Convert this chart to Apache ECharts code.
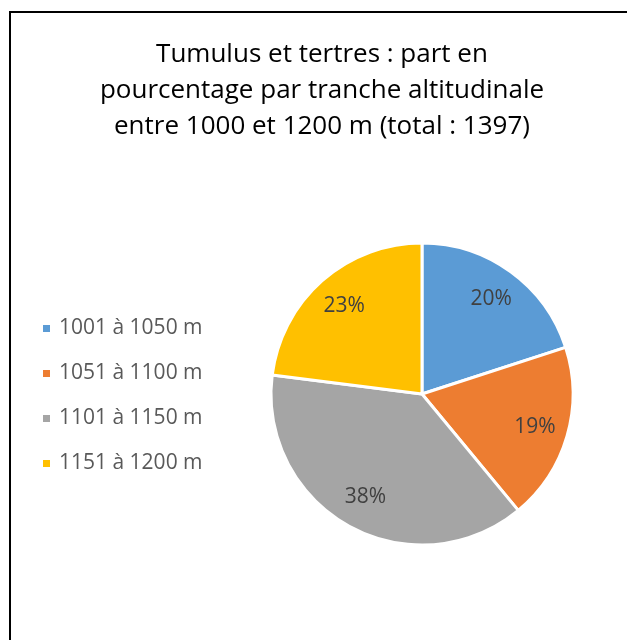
<!DOCTYPE html>
<html>
<head>
<meta charset="utf-8">
<script src="https://cdn.jsdelivr.net/npm/echarts@6/dist/echarts.min.js"></script>
<style>
  html, body { margin: 0; padding: 0; background: #fff; }
  #chart { width: 627px; height: 640px; }
</style>
</head>
<body>
<div id="chart"></div>
<script>
// Altitude bands and their share (%) of the 1397 tumulus and mounds
var bands = ['1001 à 1050 m', '1051 à 1100 m', '1101 à 1150 m', '1151 à 1200 m'];
var shares = [20, 19, 38, 23];
var colors = ['#5B9BD5', '#ED7D31', '#A5A5A5', '#FFC000'];
var titleText = 'Tumulus et tertres : part en\npourcentage par tranche altitudinale\nentre 1000 et 1200 m (total : 1397)';

var FONT = 'Open Sans';
var center = [422, 394];
var R = 151;

var pieData = bands.map(function (b, i) {
  return { name: b, value: shares[i], itemStyle: { color: colors[i] } };
});

var chart = echarts.init(document.getElementById('chart'), null, { renderer: 'canvas' });
chart.setOption({
  backgroundColor: '#ffffff',
  animation: false,
  title: {
    text: titleText,
    left: 322,
    top: 37,
    padding: 0,
    textAlign: 'center',
    textStyle: {
      fontFamily: FONT,
      fontSize: 26,
      fontWeight: 'normal',
      color: '#000000',
      lineHeight: 36
    }
  },
  legend: {
    orient: 'vertical',
    left: 41,
    top: 318,
    padding: 0,
    itemWidth: 9,
    itemHeight: 9,
    itemGap: 24,
    icon: 'rect',
    data: bands,
    selectedMode: false,
    textStyle: {
      fontFamily: FONT,
      fontSize: 21,
      lineHeight: 20,
      color: '#595959',
      padding: [0, 0, 0, 3]
    }
  },
  graphic: [{
    type: 'rect',
    shape: { x: 10, y: 12, width: 660, height: 660 },
    style: { fill: 'none', stroke: '#000000', lineWidth: 2 },
    silent: true
  }],
  series: [
    {
      // the slices
      type: 'pie',
      center: center,
      radius: [0, R],
      startAngle: 90,
      clockwise: true,
      data: pieData,
      label: { show: false },
      labelLine: { show: false },
      itemStyle: { borderColor: '#ffffff', borderWidth: 3 },
      silent: true
    },
    {
      // transparent ring carrying the percentage labels
      type: 'pie',
      center: center,
      radius: [78, R],
      startAngle: 90,
      clockwise: true,
      data: bands.map(function (b, i) {
        return { name: b, value: shares[i] };
      }),
      itemStyle: { color: 'rgba(0,0,0,0)', borderWidth: 0 },
      label: {
        show: true,
        position: 'inside',
        formatter: '{c}%',
        fontFamily: FONT,
        fontSize: 21,
        color: '#404040'
      },
      labelLine: { show: false },
      emphasis: { disabled: true },
      silent: true
    }
  ]
});
</script>
</body>
</html>
